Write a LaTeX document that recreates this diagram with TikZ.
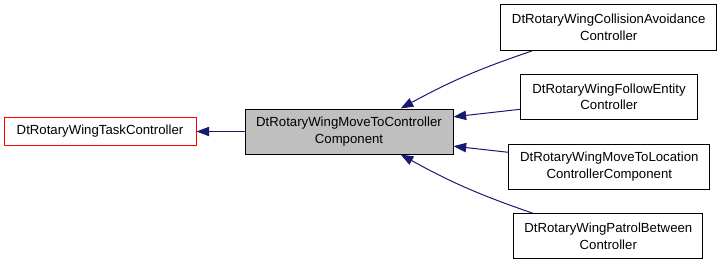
\documentclass[tikz,border=0pt]{standalone}
\usepackage{fontspec}
\setmainfont{Liberation Sans}
\usetikzlibrary{arrows.meta,positioning}

\definecolor{edgeblue}{HTML}{191970}
\definecolor{basegray}{HTML}{BFBFBF}

\begin{document}
\begin{tikzpicture}[x=0.75pt, y=-0.75pt, font=\fontsize{9.9}{12.5}\selectfont, >={Triangle[length=9.5pt,width=7pt]}]
    \tikzset{
        classbox/.style={rectangle, draw=black, fill=white, line width=0.75pt, align=center, inner sep=0pt, minimum height=33.75pt},
        inherit/.style={<-, draw=edgeblue, line width=0.75pt}
    }
    \useasboundingbox (0,0) rectangle (723,264);

    \node [classbox, fill=basegray, minimum width=156pt] (mover) at (349,131.5) {DtRotaryWingMoveToController\\Component};
    \node [classbox, draw=red, minimum width=144pt, minimum height=21pt, left=36pt of mover] (task) {DtRotaryWingTaskController};

    \node [classbox, minimum width=162pt, minimum height=34.5pt] (collide) at (608.7,27.5) {DtRotaryWingCollisionAvoidance\\Controller};
    \node [classbox, minimum width=132.5pt] (follow) at (609,96.8) {DtRotaryWingFollowEntity\\Controller};
    \node [classbox, minimum width=151pt] (locate) at (609.3,166.5) {DtRotaryWingMoveToLocation\\ControllerComponent};
    \node [classbox, minimum width=141.5pt] (patrol) at (608.3,236.3) {DtRotaryWingPatrolBetween\\Controller};

    \draw [inherit] (task) -- (mover);
    \draw [inherit] (mover.24) to[bend left=5] (collide.197);
    \draw [inherit] (mover.8) -- (follow.188);
    \draw [inherit] (mover.-8) -- (locate.172);
    \draw [inherit] (mover.-24) to[bend right=5] (patrol.163);
\end{tikzpicture}
\end{document}
